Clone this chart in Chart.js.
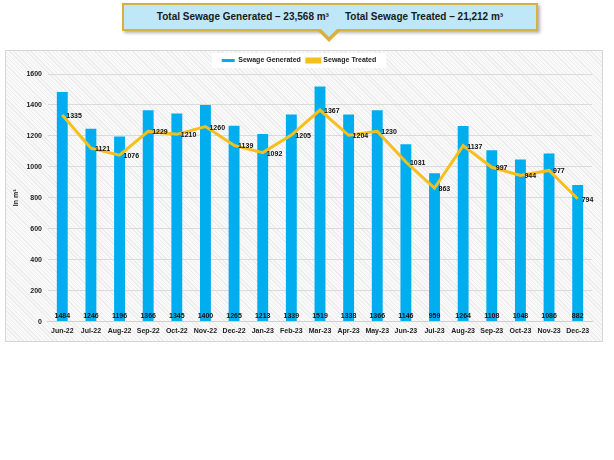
<!DOCTYPE html>
<html>
<head>
<meta charset="utf-8">
<script src="https://cdn.jsdelivr.net/npm/chart.js@4.4.0/dist/chart.umd.min.js"></script>
<style>
  body { margin: 0; background: #ffffff; font-family: "Liberation Sans", Arial, sans-serif; }
  #callout {
    position: absolute; left: 122px; top: 3px; width: 412px; height: 24px;
    background: #bfe7f8; border: 2px solid #d8b03c;
    box-shadow: 2px 2px 3px rgba(0,0,0,0.3);
    font-weight: bold; font-size: 10px; color: #1a1a1a;
    text-align: center; line-height: 24px; white-space: pre;
  }
  #callout span { margin: 0 8px; }
  #ptr_outer {
    position: absolute; left: 316px; top: 29px; width: 0; height: 0;
    border-left: 13px solid transparent; border-right: 13px solid transparent;
    border-top: 13px solid #d8b03c;
  }
  #ptr_inner {
    position: absolute; left: 320px; top: 28px; width: 0; height: 0;
    border-left: 9px solid transparent; border-right: 9px solid transparent;
    border-top: 9px solid #bfe7f8;
  }
  #panel {
    position: absolute; left: 5px; top: 50px; width: 596px; height: 290px;
    border: 1px solid #d6d6d6;
    background: repeating-linear-gradient(45deg, #ededed 0px, #ededed 1px, #f9f9f9 1px, #f9f9f9 3px);
  }
</style>
</head>
<body>
<div id="panel"><canvas id="chart1"></canvas></div>
<div id="callout"><span>Total Sewage Generated – 23,568 m³</span><span>Total Sewage Treated – 21,212 m³</span></div>
<div id="ptr_outer"></div>
<div id="ptr_inner"></div>
<script>
//---------------------------------------
// Data
//---------------------------------------
const months = ['Jun-22', 'Jul-22', 'Aug-22', 'Sep-22', 'Oct-22', 'Nov-22', 'Dec-22', 'Jan-23', 'Feb-23', 'Mar-23',
  'Apr-23', 'May-23', 'Jun-23', 'Jul-23', 'Aug-23', 'Sep-23', 'Oct-23', 'Nov-23', 'Dec-23'];
const sewage_generated = [1484, 1246, 1196, 1366, 1345, 1400, 1265, 1213, 1339, 1519,
  1338, 1366, 1146, 959, 1264, 1108, 1048, 1086, 882];
const sewage_treated = [1335, 1121, 1076, 1229, 1210, 1260, 1139, 1092, 1205, 1367,
  1204, 1230, 1031, 863, 1137, 997, 944, 977, 794];
const y_max = 1600;
const y_step = 200;

//---------------------------------------
// Plugins
//---------------------------------------
const font_bold = (size) => ({ family: '"Liberation Sans", Arial, sans-serif', size: size, weight: 'bold' });

// white box behind the legend
const legend_bg = {
  id: 'legend_bg',
  beforeDraw(chart) {
    const lg = chart.legend;
    if (!lg || !lg.legendHitBoxes.length) return;
    const boxes = lg.legendHitBoxes;
    const last = boxes[boxes.length - 1];
    const x0 = boxes[0].left - 10;
    const x1 = last.left + last.width + 10;
    const ctx = chart.ctx;
    ctx.save();
    ctx.fillStyle = '#ffffff';
    ctx.fillRect(x0, boxes[0].top - 4, x1 - x0, boxes[0].height + 8);
    ctx.restore();
  }
};

// value labels: bars at the bottom, line to the right of points
const value_labels = {
  id: 'value_labels',
  afterDatasetsDraw(chart) {
    const ctx = chart.ctx;
    const y0 = chart.scales.y.getPixelForValue(0);
    ctx.save();
    ctx.font = 'bold 7px "Liberation Sans", Arial, sans-serif';
    ctx.fillStyle = '#111111';

    const bars = chart.getDatasetMeta(0).data;
    ctx.textAlign = 'center';
    ctx.textBaseline = 'middle';
    bars.forEach((b, i) => {
      ctx.fillText(sewage_generated[i], b.x, y0 - 6);
    });

    const pts = chart.getDatasetMeta(1).data;
    ctx.textAlign = 'left';
    pts.forEach((p, i) => {
      ctx.fillText(sewage_treated[i], p.x + 4, p.y + 1);
    });
    ctx.restore();
  }
};

//---------------------------------------
// Chart
//---------------------------------------
const canvas = document.getElementById('chart1');
canvas.width = 596;
canvas.height = 290;

new Chart(canvas, {
  data: {
    labels: months,
    datasets: [
      {
        type: 'bar',
        label: 'Sewage Generated',
        data: sewage_generated,
        backgroundColor: '#00aeef',
        borderWidth: 0,
        barPercentage: 0.38,
        categoryPercentage: 1.0,
        order: 2
      },
      {
        type: 'line',
        label: 'Sewage Treated',
        data: sewage_treated,
        borderColor: '#f7bf1e',
        backgroundColor: '#f7bf1e',
        borderWidth: 3,
        pointRadius: 0,
        tension: 0,
        order: 1
      }
    ]
  },
  options: {
    responsive: false,
    animation: false,
    layout: { padding: { left: 0, right: 10, top: 0, bottom: 1 } },
    plugins: {
      legend: {
        position: 'top',
        labels: {
          font: font_bold(7),
          color: '#222222',
          boxWidth: 13,
          boxHeight: 3,
          padding: 6,
          sort: (a, b) => a.datasetIndex - b.datasetIndex
        }
      },
      tooltip: { enabled: false }
    },
    scales: {
      x: {
        grid: { display: false, drawTicks: false },
        border: { color: '#d0d0d0' },
        ticks: { font: font_bold(7), color: '#222222', maxRotation: 0, autoSkip: false, padding: 5 }
      },
      y: {
        min: 0,
        max: y_max,
        ticks: {
          stepSize: y_step, font: font_bold(7), color: '#222222', padding: 6,
          callback: (v) => String(v)
        },
        grid: { color: '#dadada', drawTicks: false },
        border: { display: false },
        title: { display: true, text: 'In m³', font: font_bold(7), color: '#222222', padding: { top: 6, bottom: 0 } }
      }
    }
  },
  plugins: [legend_bg, value_labels]
});
</script>
</body>
</html>
